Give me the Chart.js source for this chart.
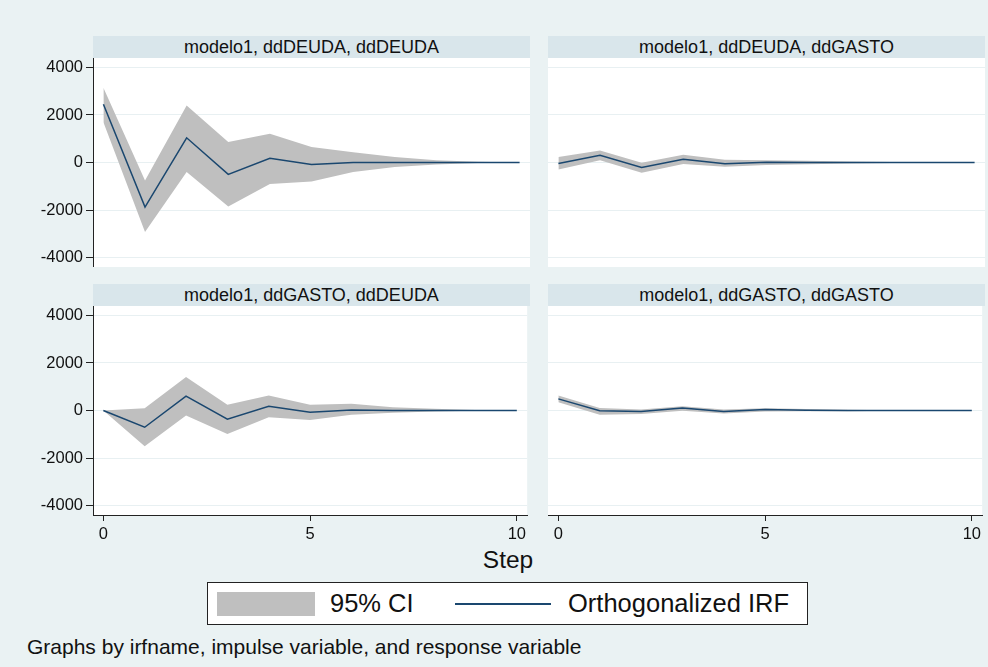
<!DOCTYPE html>
<html>
<head>
<meta charset="utf-8">
<script src="https://cdn.jsdelivr.net/npm/chart.js@4/dist/chart.umd.min.js"></script>
<style>
  body { margin: 0; background: #eaf2f3; font-family: "Liberation Sans", Arial, sans-serif; }
  #page { position: relative; width: 988px; height: 667px; overflow: hidden; background: #eaf2f3; }
  .strip { position: absolute; height: 22px; line-height: 22px; background: #d9e6eb; color: #111; font-size: 18px; text-align: center; }
  .panel { position: absolute; }
  #step { position: absolute; left: 408px; width: 200px; top: 547px; text-align: center; font-size: 24.5px; line-height: 26px; color: #111; }
  #legend { position: absolute; left: 207px; top: 582px; width: 599px; height: 41px; background: #fff; border: 1px solid #222; }
  #legend div { position: absolute; }
  .ltxt { font-size: 25.5px; line-height: 26px; top: 7px; color: #111; white-space: nowrap; }
  #note { position: absolute; left: 27px; top: 636px; font-size: 21px; line-height: 22px; color: #111; white-space: nowrap; }
</style>
</head>
<body>
<div id="page">
  <div class="strip" style="left:93px;top:36px;width:437px">modelo1, ddDEUDA, ddDEUDA</div>
  <div class="strip" style="left:548px;top:36px;width:437px">modelo1, ddDEUDA, ddGASTO</div>
  <div class="strip" style="left:93px;top:284px;width:437px">modelo1, ddGASTO, ddDEUDA</div>
  <div class="strip" style="left:548px;top:284px;width:437px">modelo1, ddGASTO, ddGASTO</div>

  <div class="panel" style="left:20px;top:58px;width:510px;height:209px"><canvas id="c1"></canvas></div>
  <div class="panel" style="left:548px;top:58px;width:437px;height:209px"><canvas id="c2"></canvas></div>
  <div class="panel" style="left:20px;top:306px;width:510px;height:240px"><canvas id="c3"></canvas></div>
  <div class="panel" style="left:548px;top:306px;width:437px;height:240px"><canvas id="c4"></canvas></div>

  <div id="step">Step</div>
  <div id="legend">
    <div style="left:9px;top:9px;width:98px;height:24px;background:#bfbfbf"></div>
    <div class="ltxt" style="left:122px">95% CI</div>
    <div style="left:247px;top:20px;width:96px;height:2px;background:#1a476f"></div>
    <div class="ltxt" style="left:360px">Orthogonalized IRF</div>
  </div>
  <div id="note">Graphs by irfname, impulse variable, and response variable</div>
</div>

<script>
const steps = [0, 1, 2, 3, 4, 5, 6, 7, 8, 9, 10];
const yTicks = [-4000, -2000, 0, 2000, 4000];
const xTicks = [0, 5, 10];

// impulse ddDEUDA -> response ddDEUDA
const irfDeudaDeuda = [2450, -1880, 1040, -500, 180, -80, 0, 5, 0, 0, 0];
const upDeudaDeuda  = [3150, -760, 2400, 860, 1210, 650, 430, 230, 100, 30, 0];
const loDeudaDeuda  = [1700, -2930, -400, -1850, -900, -800, -400, -190, -80, -20, 0];

// impulse ddDEUDA -> response ddGASTO
const irfDeudaGasto = [-40, 300, -210, 140, -50, 15, 5, 0, 0, 0, 0];
const upDeudaGasto  = [230, 510, -10, 330, 120, 100, 70, 40, 20, 8, 0];
const loDeudaGasto  = [-290, 100, -430, -60, -180, -110, -70, -40, -20, -8, 0];

// impulse ddGASTO -> response ddDEUDA
const irfGastoDeuda = [0, -705, 605, -365, 180, -70, 20, 5, 0, 0, 0];
const upGastoDeuda  = [0, 100, 1410, 240, 630, 240, 280, 140, 70, 20, 0];
const loGastoDeuda  = [0, -1510, -210, -985, -280, -395, -180, -90, -40, -10, 0];

// impulse ddGASTO -> response ddGASTO
const irfGastoGasto = [490, -10, -40, 100, -40, 40, 10, 0, 0, 0, 0];
const upGastoGasto  = [630, 110, 40, 180, 40, 100, 60, 35, 15, 5, 0];
const loGastoGasto  = [350, -180, -150, -15, -125, -40, -30, -30, -15, -5, 0];

const font = { family: '"Liberation Sans", Arial, sans-serif', size: 16.5 };

const plotBg = {
  id: 'plotBg',
  beforeDraw(chart) {
    const a = chart.chartArea, c = chart.ctx;
    c.save();
    c.fillStyle = '#ffffff';
    c.fillRect(a.left, a.top, a.right - a.left, a.bottom - a.top);
    c.restore();
  }
};

function pts(arr) {
  return steps.map((s, i) => ({ x: s, y: arr[i] }));
}

function makePanel(id, irf, up, lo, showY, showX) {
  new Chart(document.getElementById(id), {
    type: 'line',
    data: {
      datasets: [
        // drawn last, so the IRF line sits on top of the band
        { data: pts(irf), fill: false, borderColor: '#1a476f', borderWidth: 1.5, pointRadius: 0, tension: 0 },
        { data: pts(up), fill: '+1', backgroundColor: '#bfbfbf', borderColor: 'rgba(0,0,0,0)', borderWidth: 0, pointRadius: 0, tension: 0 },
        { data: pts(lo), fill: false, borderColor: 'rgba(0,0,0,0)', borderWidth: 0, pointRadius: 0, tension: 0 }
      ]
    },
    options: {
      responsive: true,
      maintainAspectRatio: false,
      animation: false,
      layout: { padding: 0 },
      plugins: { legend: { display: false }, tooltip: { enabled: false } },
      scales: {
        x: {
          type: 'linear',
          min: -0.25,
          max: 10.25,
          display: showX,
          afterBuildTicks: s => { s.ticks = xTicks.map(v => ({ value: v })); },
          afterFit: s => { if (showX) s.height = 31; },
          grid: { drawOnChartArea: false, tickLength: 6, tickColor: '#222' },
          border: { color: '#222' },
          ticks: { font: font, color: '#111', padding: 4, maxRotation: 0, autoSkip: false, callback: v => String(v) }
        },
        y: {
          min: -4400,
          max: 4400,
          afterBuildTicks: s => { s.ticks = yTicks.map(v => ({ value: v })); },
          afterFit: s => {
            s.width = showY ? 73 : 0;
            s.paddingTop = 0;
            s.paddingBottom = 0;
          },
          grid: { color: '#e8f0f2', tickLength: showY ? 7 : 0, tickColor: '#222' },
          border: { display: showY, color: '#222' },
          ticks: { display: showY, font: font, color: '#111', padding: 3, callback: v => String(v) }
        }
      }
    },
    plugins: [plotBg]
  });
}

makePanel('c1', irfDeudaDeuda, upDeudaDeuda, loDeudaDeuda, true, false);
makePanel('c2', irfDeudaGasto, upDeudaGasto, loDeudaGasto, false, false);
makePanel('c3', irfGastoDeuda, upGastoDeuda, loGastoDeuda, true, true);
makePanel('c4', irfGastoGasto, upGastoGasto, loGastoGasto, false, true);
</script>
</body>
</html>
